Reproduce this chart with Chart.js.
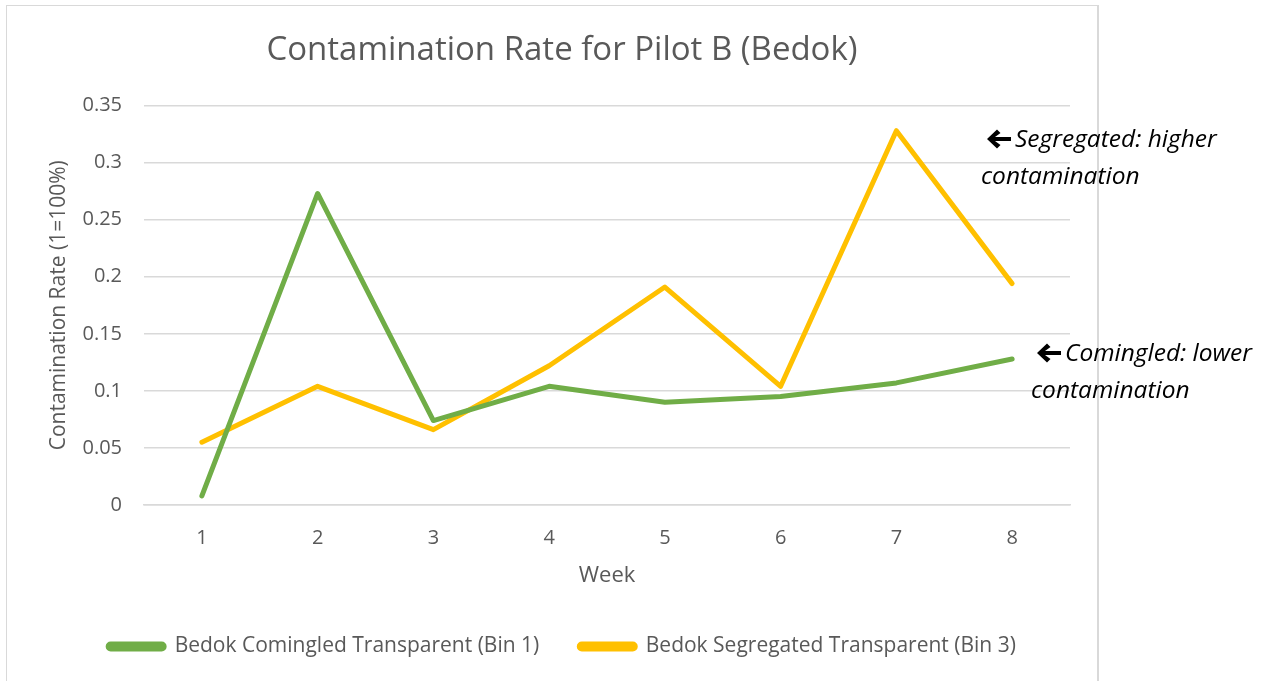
<!DOCTYPE html>
<html>
<head>
<meta charset="utf-8">
<script src="https://cdn.jsdelivr.net/npm/chart.js@4.4.0/dist/chart.umd.min.js"></script>
<style>
  html, body { margin: 0; padding: 0; background: #fff; }
  #wrap { position: relative; width: 1273px; height: 681px; overflow: hidden; }
  #frame { position: absolute; left: 6px; top: 5px; width: 1093px; height: 700px;
           border: 1px solid #d9d9d9; border-right-width: 2px; box-sizing: border-box; }
  canvas { position: absolute; left: 0; top: 0; }
  .note { position: absolute; font-family: "Open Sans", sans-serif; font-style: italic;
          font-size: 24.5px; color: #000; line-height: 37px; white-space: nowrap; }
  .note svg { vertical-align: -2px; margin-left: 5px; margin-right: 3px; }
</style>
</head>
<body>
<div id="wrap">
  <div id="frame"></div>
  <canvas id="chart" width="1273" height="681"></canvas>
  <div class="note" style="left:981px; top:119px;">
    <svg width="26" height="20" viewBox="0 0 26 20"><path d="M1 10 L11 0.5 L14.5 4 L9 8 L25 8 L25 12 L9 12 L14.5 16 L11 19.5 Z" fill="#000"/></svg>Segregated: higher<br>contamination
  </div>
  <div class="note" style="left:1031px; top:333px;">
    <svg width="26" height="20" viewBox="0 0 26 20"><path d="M1 10 L11 0.5 L14.5 4 L9 8 L25 8 L25 12 L9 12 L14.5 16 L11 19.5 Z" fill="#000"/></svg>Comingled: lower<br>contamination
  </div>
</div>
<script>
// chart data
const weeks = ['1', '2', '3', '4', '5', '6', '7', '8'];
const comingled = [0.008, 0.273, 0.074, 0.104, 0.090, 0.095, 0.107, 0.128];
const segregated = [0.055, 0.104, 0.066, 0.122, 0.191, 0.104, 0.328, 0.194];
const seriesNames = ['Bedok Comingled Transparent (Bin 1)', 'Bedok Segregated Transparent (Bin 3)'];
const seriesColors = ['#70AD47', '#FFC000'];

const FONT = '"Open Sans", sans-serif';
const GREY = '#595959';

Chart.defaults.font.family = FONT;
Chart.defaults.color = GREY;

function makeSet(label, data, color) {
    return {
        label: label,
        data: data,
        borderColor: color,
        backgroundColor: color,
        borderWidth: 5,
        borderCapStyle: 'round',
        borderJoinStyle: 'round',
        pointRadius: 0,
        tension: 0
    };
}

new Chart(document.getElementById('chart'), {
    type: 'line',
    data: {
        labels: weeks,
        datasets: [
            makeSet(seriesNames[0], comingled, seriesColors[0]),
            makeSet(seriesNames[1], segregated, seriesColors[1])
        ]
    },
    options: {
        responsive: false,
        animation: false,
        layout: { padding: { left: 54, right: 203, top: 21, bottom: 14 } },
        plugins: {
            title: {
                display: true,
                text: 'Contamination Rate for Pilot B (Bedok)',
                color: GREY,
                font: { size: 33, weight: 'normal' },
                padding: { top: 10, bottom: 35 }
            },
            legend: {
                position: 'bottom',
                labels: {
                    boxWidth: 56,
                    boxHeight: 5,
                    useBorderRadius: true,
                    borderRadius: 2.5,
                    padding: 40,
                    color: GREY,
                    font: { size: 21 }
                }
            },
            tooltip: { enabled: false }
        },
        scales: {
            x: {
                offset: true,
                grid: { display: false, drawTicks: false },
                border: { color: '#d9d9d9', width: 1.5 },
                ticks: { padding: 21, font: { size: 20 }, color: GREY },
                title: { display: true, text: 'Week', color: GREY, font: { size: 22 }, padding: { top: 8, bottom: 7 } },
                afterFit: function(scale) { scale.height = 91; }
            },
            y: {
                min: 0,
                max: 0.35,
                grid: { color: '#d9d9d9', lineWidth: 1.5, drawTicks: false },
                border: { display: false },
                ticks: { stepSize: 0.05, padding: 22, font: { size: 20 }, color: GREY,
                         callback: function(v) { return +v.toFixed(2); } },
                title: { display: true, text: 'Contamination Rate (1=100%)', color: GREY, font: { size: 21 },
                         padding: { top: -8, bottom: 0 } },
                afterFit: function(scale) { scale.width = 90; }
            }
        }
    }
});
</script>
</body>
</html>
